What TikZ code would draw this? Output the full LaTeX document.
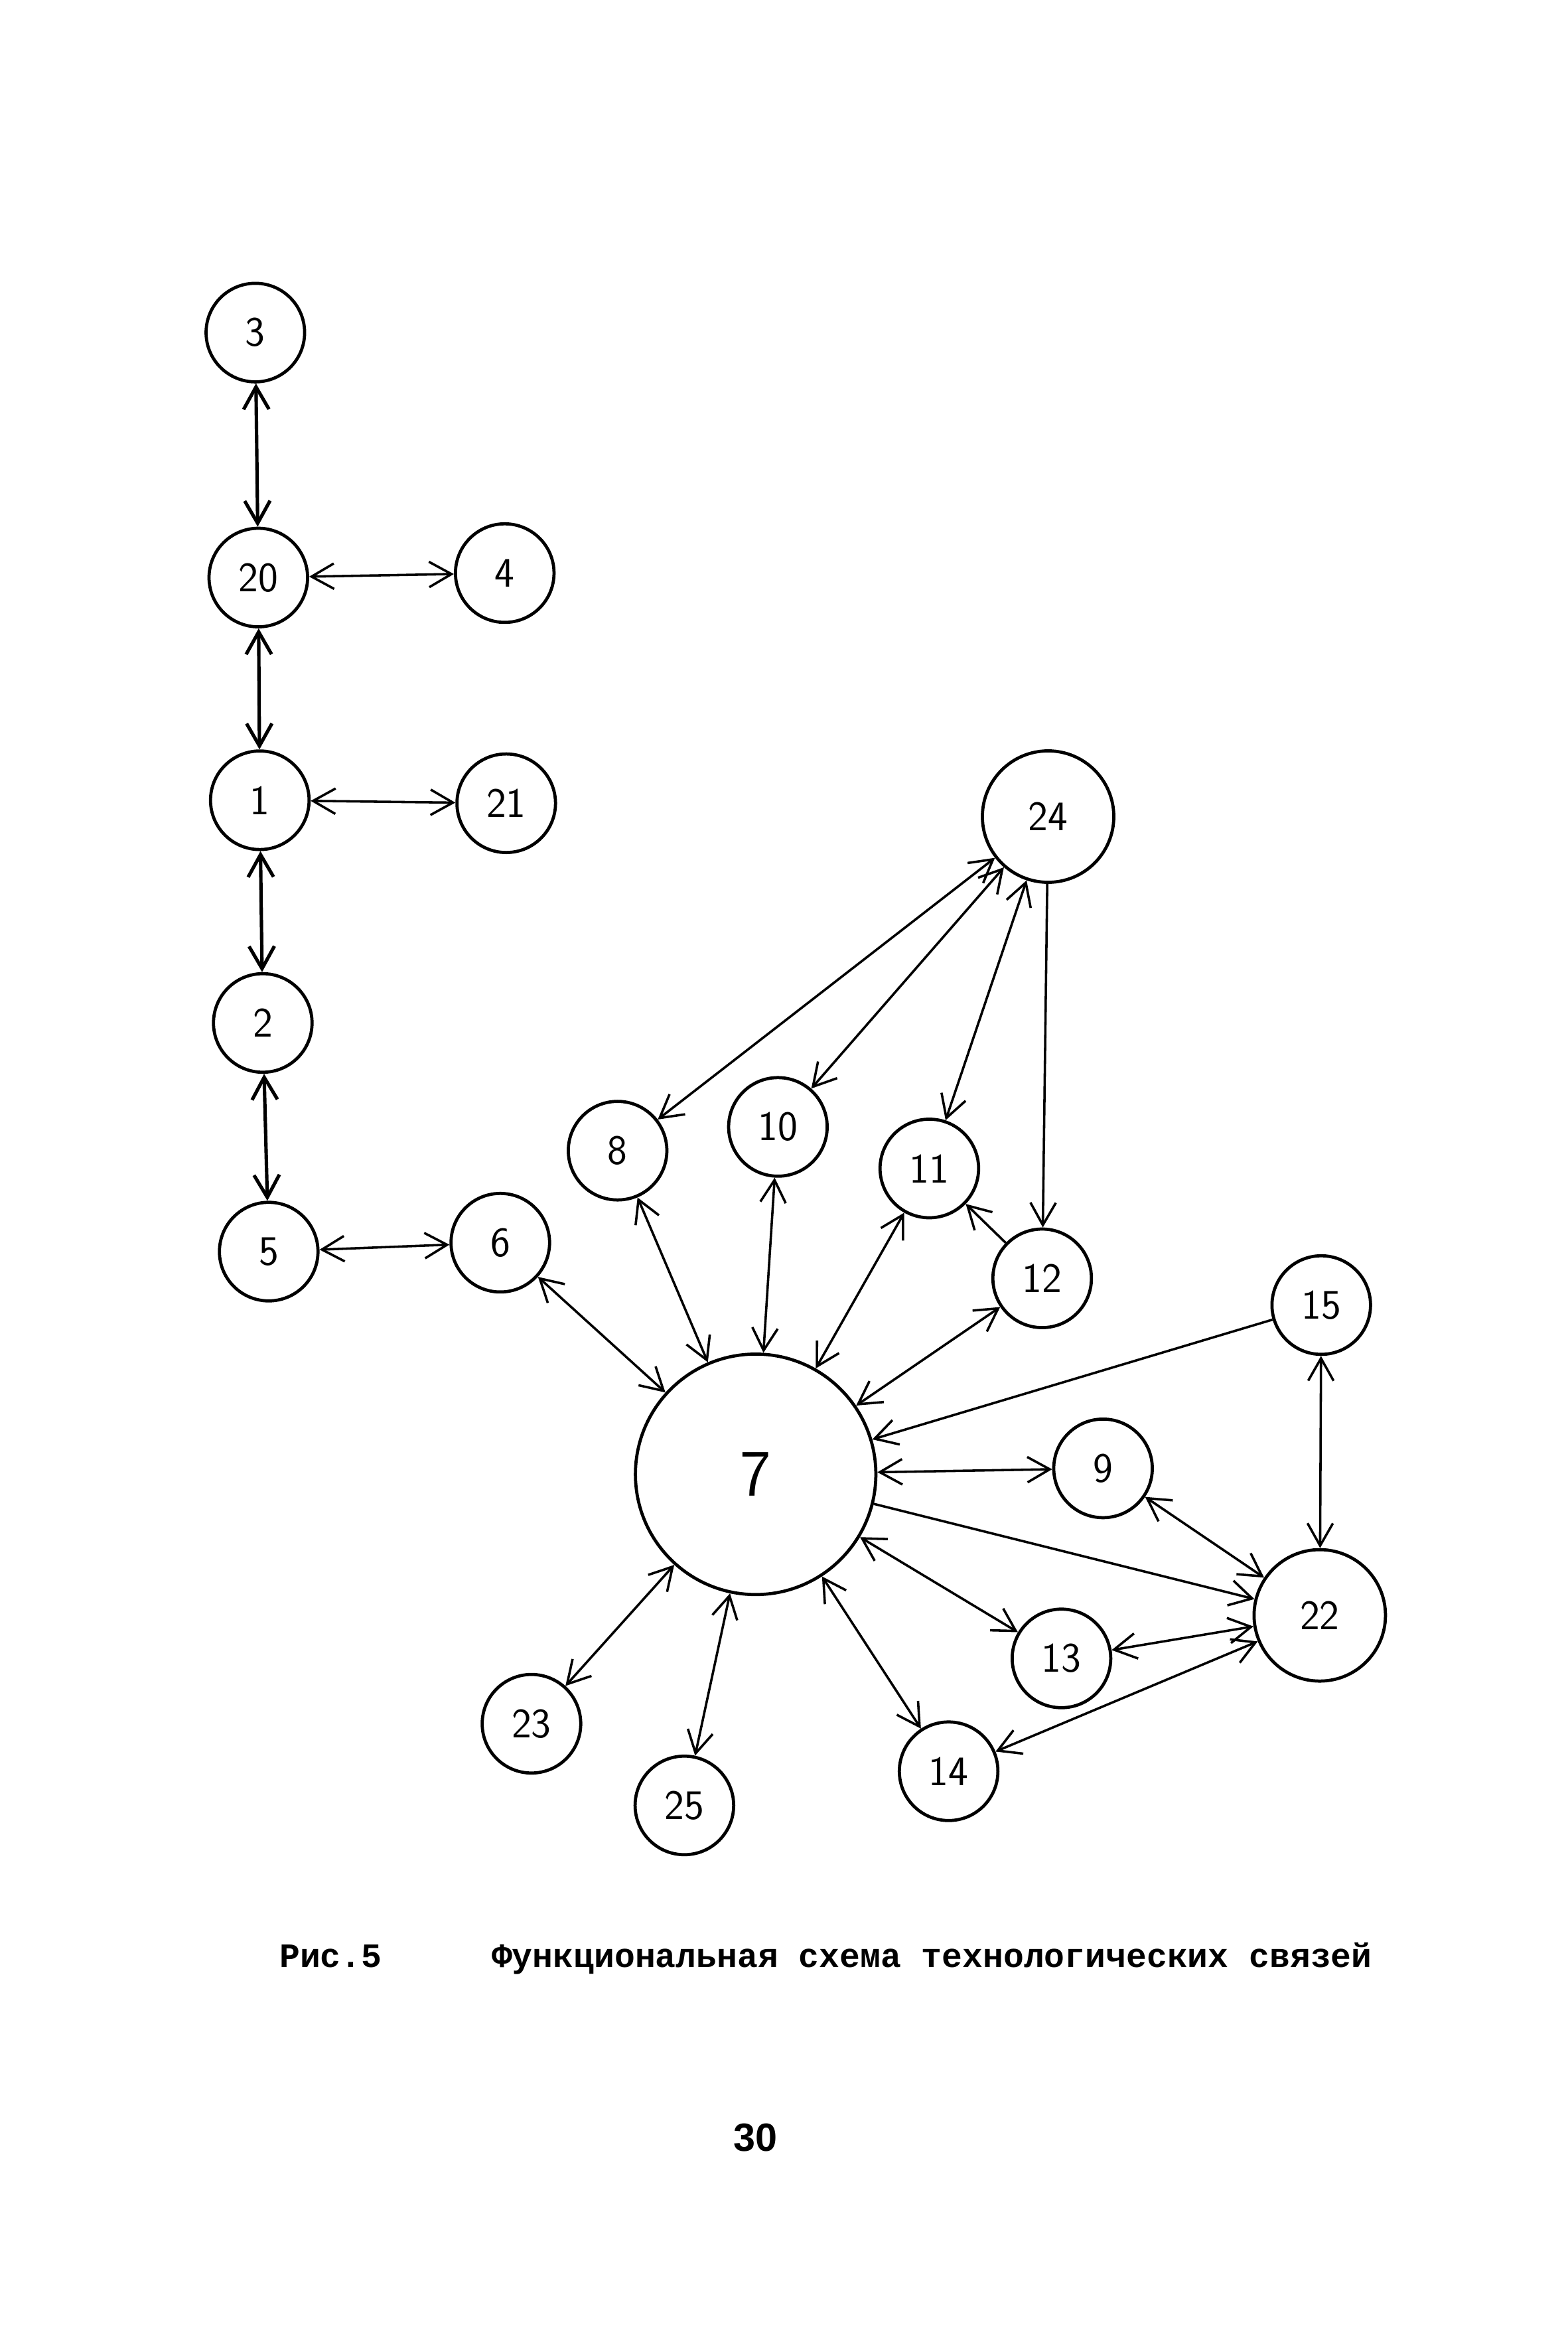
\documentclass[tikz,border=0pt]{standalone}
\usepackage{fontspec}
\newfontfamily\capfont{Liberation Mono}
\newfontfamily\pagefont{Liberation Sans}
\usetikzlibrary{arrows.meta}
\tikzset{
  unit/.style={circle, draw, line width=1.2pt, minimum size=13.2mm, inner sep=0pt,
    font=\sffamily\fontsize{16}{16}\selectfont},
  bigunit/.style={unit, minimum size=17.6mm},
  hub/.style={unit, minimum size=32.2mm, font=\sffamily\fontsize{25}{25}\selectfont},
  barb/.tip={Straight Barb[length=3mm,width=3.4mm]},
  link/.style={line width=0.9pt, barb-barb},
  flow/.style={line width=0.9pt, -barb},
  trunk/.style={link, line width=1.3pt},
}
\begin{document}
\begin{tikzpicture}[x=0.019886cm, y=-0.019886cm]
    \useasboundingbox (0,0) rectangle (1056,1568);
    % Left chain
    \node[unit] (n3) at (172,224) {3};
    \node[unit] (n20) at (174,389) {20};
    \node[unit] (n4) at (340,386) {4};
    \node[unit] (n1) at (175,539) {1};
    \node[unit] (n21) at (341,541) {21};
    \node[unit] (n2) at (177,689) {2};
    \node[unit] (n5) at (181,843) {5};
    \node[unit] (n6) at (337,837) {6};
    % Upper group
    \node[bigunit] (n24) at (706,550) {24};
    \node[unit] (n8) at (416,775) {8};
    \node[unit] (n10) at (524,759) {10};
    \node[unit] (n11) at (626,787) {11};
    \node[unit] (n12) at (702,861) {12};
    \node[unit] (n15) at (890,879) {15};
    % Hub and lower group
    \node[hub] (n7) at (509,993) {7};
    \node[unit] (n9) at (743,989) {9};
    \node[bigunit] (n22) at (889,1088) {22};
    \node[unit] (n13) at (715,1117) {13};
    \node[unit] (n14) at (639,1193) {14};
    \node[unit] (n23) at (358,1161) {23};
    \node[unit] (n25) at (461,1216) {25};
    % Links of the left chain
    \draw[trunk] (n3) -- (n20);
    \draw[trunk] (n20) -- (n1);
    \draw[trunk] (n1) -- (n2);
    \draw[trunk] (n2) -- (n5);
    \draw[link] (n20) -- (n4);
    \draw[link] (n1) -- (n21);
    \draw[link] (n5) -- (n6);
    % Links round 24
    \draw[link] (n24) -- (n8);
    \draw[link] (n24) -- (n10);
    \draw[link] (n24) -- (n11);
    \draw[flow] (n24) -- (n12);
    \draw[flow] (n12) -- (n11);
    % Links of the hub
    \foreach \k in {6,8,10,11,12,9,13,14,23,25}
        \draw[link] (n7) -- (n\k);
    \draw[flow] (n15) -- (n7);
    \draw[flow] (n7) -- (n22);
    % Links of 22
    \draw[link] (n15) -- (n22);
    \draw[link] (n9) -- (n22);
    \draw[link] (n13) -- (n22);
    \draw[link] (n14) -- (n22);
    % Caption and page number
    \node[anchor=base west, font=\capfont\bfseries\fontsize{13}{15}\selectfont] (fig) at (182,1325) {Рис.5};
    \node[anchor=base west, font=\capfont\bfseries\fontsize{13}{15}\selectfont] (title) at (325,1325)
        {Функциональная схема технологических связей};
    \node[anchor=base, font=\pagefont\bfseries\fontsize{15}{15}\selectfont] (page) at (509,1449) {30};
\end{tikzpicture}
\end{document}
